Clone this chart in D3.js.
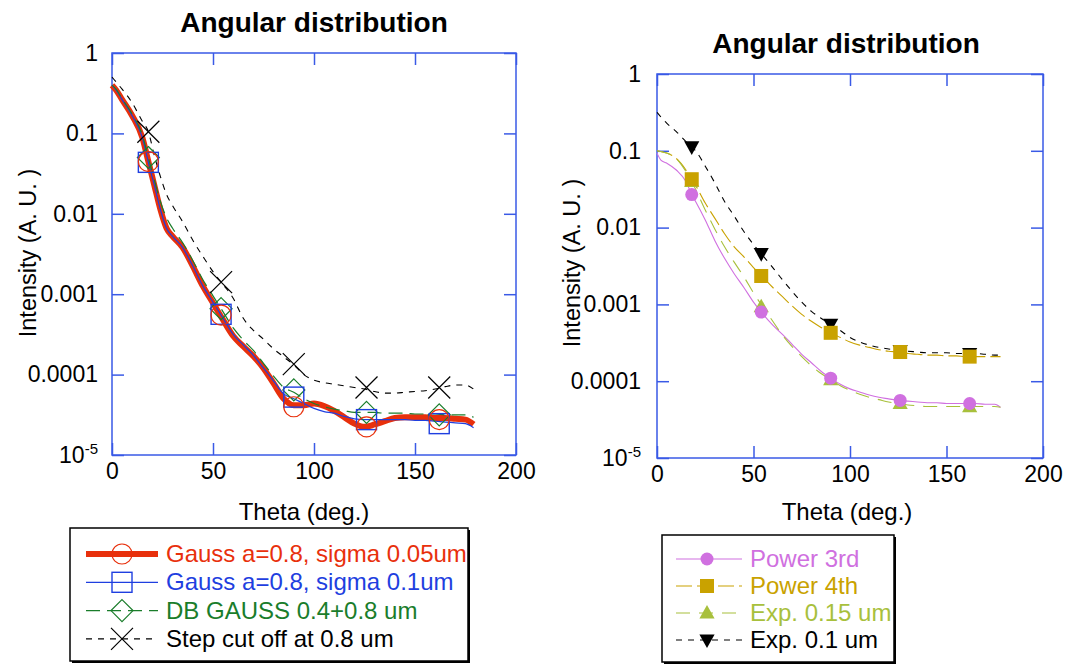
<!DOCTYPE html>
<html>
<head>
<meta charset="utf-8">
<script src="https://cdn.jsdelivr.net/npm/d3@7"></script>
<style>
  body { margin: 0; background: #fff; }
  text { font-family: "Liberation Sans", Arial, sans-serif; }
</style>
</head>
<body>
<svg id="chart" width="1069" height="666"></svg>
<script>
// ---- data (intensities, stored as log10 values) ----
let xTicks = [0, 50, 100, 150, 200];
let yTicks = [1, 0.1, 0.01, 0.001, 0.0001, 1e-5];
let yTickLabels = ["1", "0.1", "0.01", "0.001", "0.0001", "10|-5"];
let markTheta = [18, 54, 90, 126, 162];

// left panel
let thetaL = [0,2,5,10,15,18,21,24,27,30,35,40,45,50,55,60,65,70,75,80,85,90,95,100,105,110,115,120,125,130,135,140,145,150,155,160,165,170,175,179];
let gauss005 = [-0.40,-0.46,-0.58,-0.78,-1.05,-1.35,-1.65,-1.95,-2.18,-2.28,-2.42,-2.65,-2.90,-3.11,-3.32,-3.52,-3.65,-3.77,-3.92,-4.11,-4.30,-4.38,-4.38,-4.36,-4.39,-4.45,-4.53,-4.61,-4.65,-4.62,-4.58,-4.54,-4.53,-4.53,-4.53,-4.54,-4.54,-4.55,-4.56,-4.62];
let gauss01 = [-0.40,-0.46,-0.58,-0.78,-1.05,-1.36,-1.65,-1.95,-2.18,-2.28,-2.42,-2.65,-2.90,-3.10,-3.30,-3.50,-3.63,-3.76,-3.92,-4.08,-4.24,-4.30,-4.36,-4.42,-4.46,-4.48,-4.52,-4.55,-4.56,-4.56,-4.56,-4.56,-4.56,-4.57,-4.57,-4.58,-4.59,-4.60,-4.61,-4.66];
let dbGauss = [-0.40,-0.45,-0.57,-0.76,-1.02,-1.30,-1.58,-1.85,-2.05,-2.18,-2.36,-2.58,-2.82,-3.02,-3.22,-3.42,-3.57,-3.70,-3.86,-4.02,-4.16,-4.22,-4.30,-4.36,-4.40,-4.43,-4.45,-4.47,-4.47,-4.47,-4.48,-4.48,-4.48,-4.49,-4.49,-4.49,-4.50,-4.50,-4.50,-4.53];
let stepCut = [-0.30,-0.36,-0.45,-0.62,-0.85,-0.98,-1.28,-1.54,-1.76,-1.90,-2.10,-2.33,-2.53,-2.72,-2.88,-3.05,-3.30,-3.45,-3.56,-3.68,-3.78,-3.88,-4.00,-4.07,-4.10,-4.12,-4.14,-4.16,-4.18,-4.21,-4.23,-4.23,-4.22,-4.21,-4.20,-4.18,-4.15,-4.13,-4.13,-4.18];
let gauss005Mk = [-1.35,-3.26,-4.40,-4.65,-4.56];
let gauss01Mk = [-1.36,-3.25,-4.28,-4.56,-4.61];
let dbGaussMk = [-1.30,-3.18,-4.19,-4.47,-4.50];
let stepCutMk = [-0.98,-2.85,-3.87,-4.16,-4.16];

// right panel
let thetaR = [0,2,5,10,15,18,20,25,30,35,40,45,50,55,60,65,70,75,80,85,90,95,100,105,110,115,120,125,130,135,140,145,150,155,160,165,170,175,178];
let power3 = [-1.03,-1.12,-1.16,-1.25,-1.40,-1.57,-1.66,-1.90,-2.17,-2.40,-2.60,-2.78,-2.97,-3.13,-3.27,-3.39,-3.52,-3.65,-3.76,-3.87,-3.96,-4.04,-4.10,-4.14,-4.18,-4.21,-4.23,-4.25,-4.26,-4.27,-4.28,-4.28,-4.29,-4.29,-4.29,-4.29,-4.30,-4.30,-4.34];
let power4 = [-1.00,-1.01,-1.03,-1.10,-1.25,-1.37,-1.45,-1.68,-1.88,-2.08,-2.25,-2.38,-2.52,-2.65,-2.78,-2.90,-3.02,-3.13,-3.22,-3.30,-3.37,-3.43,-3.49,-3.53,-3.56,-3.59,-3.61,-3.62,-3.64,-3.65,-3.66,-3.66,-3.67,-3.67,-3.68,-3.68,-3.68,-3.68,-3.68];
let exp015 = [-1.00,-1.01,-1.03,-1.10,-1.27,-1.40,-1.50,-1.77,-2.02,-2.25,-2.45,-2.64,-2.85,-3.04,-3.22,-3.40,-3.55,-3.68,-3.80,-3.90,-3.98,-4.06,-4.12,-4.17,-4.21,-4.24,-4.27,-4.29,-4.31,-4.32,-4.33,-4.33,-4.33,-4.33,-4.33,-4.33,-4.33,-4.33,-4.34];
let exp01 = [-0.50,-0.56,-0.64,-0.75,-0.88,-0.95,-1.00,-1.20,-1.42,-1.66,-1.85,-2.05,-2.22,-2.37,-2.52,-2.68,-2.83,-2.97,-3.09,-3.18,-3.26,-3.34,-3.43,-3.49,-3.53,-3.56,-3.58,-3.60,-3.61,-3.62,-3.63,-3.63,-3.63,-3.64,-3.64,-3.64,-3.65,-3.66,-3.66];
let power3Mk = [-1.57,-3.10,-3.96,-4.25,-4.29];
let power4Mk = [-1.37,-2.63,-3.37,-3.62,-3.68];
let exp015Mk = [-1.40,-3.03,-3.98,-4.29,-4.33];
let exp01Mk = [-0.95,-2.34,-3.26,-3.60,-3.64];

// ---- drawing ----
let FRAME = "#3a5ae6";
let svg = d3.select("#chart");

function pairs(xs, logs) {
  return xs.map((t, i) => [t, Math.pow(10, logs[i])]);
}

function marker(g, kind, color, size, cx, cy) {
  if (kind === "circle") {
    g.append("circle").attr("cx", cx).attr("cy", cy).attr("r", size)
      .attr("fill", "none").attr("stroke", color).attr("stroke-width", 1.2);
  } else if (kind === "square") {
    g.append("rect").attr("x", cx - size).attr("y", cy - size)
      .attr("width", size * 2).attr("height", size * 2)
      .attr("fill", "none").attr("stroke", color).attr("stroke-width", 1.4);
  } else if (kind === "diamond") {
    g.append("path").attr("d", `M${cx},${cy - size}L${cx + size},${cy}L${cx},${cy + size}L${cx - size},${cy}Z`)
      .attr("fill", "none").attr("stroke", color).attr("stroke-width", 1.2);
  } else if (kind === "cross") {
    g.append("path").attr("d", `M${cx - size},${cy - size}L${cx + size},${cy + size}M${cx - size},${cy + size}L${cx + size},${cy - size}`)
      .attr("fill", "none").attr("stroke", color).attr("stroke-width", 1.2);
  } else if (kind === "fcircle") {
    g.append("circle").attr("cx", cx).attr("cy", cy).attr("r", size).attr("fill", color);
  } else if (kind === "fsquare") {
    g.append("rect").attr("x", cx - size).attr("y", cy - size)
      .attr("width", size * 2).attr("height", size * 2).attr("fill", color);
  } else if (kind === "tri") {
    g.append("path").attr("d", `M${cx},${cy - size}L${cx + size * 0.95},${cy + size * 0.7}L${cx - size * 0.95},${cy + size * 0.7}Z`).attr("fill", color);
  } else if (kind === "trid") {
    g.append("path").attr("d", `M${cx},${cy + size}L${cx + size * 0.95},${cy - size * 0.7}L${cx - size * 0.95},${cy - size * 0.7}Z`).attr("fill", color);
  }
}

function panel(p) {
  let x = d3.scaleLinear().domain([0, 200]).range([p.left, p.right]);
  let y = d3.scaleLog().domain([1e-5, 1]).range([p.bottom, p.top]);
  let g = svg.append("g");

  // title
  g.append("text").attr("x", p.titleX).attr("y", p.titleY).attr("text-anchor", "middle")
    .attr("font-size", 28).attr("font-weight", "bold").text("Angular distribution");

  // axes with inward ticks
  let styleAxis = (a) => {
    a.select(".domain").remove();
    a.selectAll(".tick line").attr("stroke", FRAME).attr("stroke-width", 1.5);
    a.selectAll(".tick text").attr("fill", "#000").attr("font-size", 23)
      .attr("font-family", "'Liberation Sans', Arial, sans-serif");
  };
  g.append("g").attr("transform", `translate(0,${p.bottom})`)
    .call(d3.axisBottom(x).tickValues(xTicks).tickSize(-12).tickPadding(8).tickFormat(d3.format("d")))
    .call(styleAxis);
  g.append("g").attr("transform", `translate(0,${p.top})`)
    .call(d3.axisTop(x).tickValues(xTicks).tickSize(-12).tickFormat(""))
    .call(styleAxis);
  let yl = g.append("g").attr("transform", `translate(${p.left},0)`)
    .call(d3.axisLeft(y).tickValues(yTicks).tickSize(-12).tickPadding(p.yPad).tickFormat((d, i) => yTickLabels[i]))
    .call(styleAxis);
  g.append("g").attr("transform", `translate(${p.right},0)`)
    .call(d3.axisRight(y).tickValues(yTicks).tickSize(-12).tickFormat(""))
    .call(styleAxis);
  // superscript label for 10^-5
  yl.selectAll(".tick text").filter((d, i) => yTickLabels[i].includes("|")).each(function (d, i) {
    let parts = yTickLabels[yTicks.indexOf(d)].split("|");
    let t = d3.select(this).text(null);
    t.append("tspan").text(parts[0]);
    t.append("tspan").attr("dy", "-0.6em").attr("font-size", 15).text(parts[1]);
  });

  g.append("rect").attr("x", p.left).attr("y", p.top)
    .attr("width", p.right - p.left).attr("height", p.bottom - p.top)
    .attr("fill", "none").attr("stroke", FRAME).attr("stroke-width", 1.5);

  // axis titles
  g.append("text").attr("x", p.xTitleX).attr("y", p.xTitleY).attr("text-anchor", "middle")
    .attr("font-size", 24).text("Theta (deg.)");
  g.append("text").attr("transform", `translate(${p.yTitleX},${p.yTitleY}) rotate(-90)`)
    .attr("text-anchor", "middle").attr("font-size", 23.5).text("Intensity (A. U. )");

  // curves
  let line = d3.line().x(d => x(d[0])).y(d => y(d[1])).curve(d3.curveMonotoneX);
  p.series.forEach(s => {
    g.append("path").datum(pairs(p.theta, s.values)).attr("d", line)
      .attr("fill", "none").attr("stroke", s.color).attr("stroke-width", s.width)
      .attr("stroke-dasharray", s.dash || null).attr("stroke-linejoin", "round");
  });
  p.series.slice().reverse().forEach(s => {
    markTheta.forEach((t, i) => marker(g, s.mark, s.color, s.size, x(t), y(Math.pow(10, s.marks[i]))));
  });

  // legend
  let L = p.legend;
  g.append("rect").attr("x", L.x + 2).attr("y", L.y + 2).attr("width", L.w).attr("height", L.h).attr("fill", "#000");
  g.append("rect").attr("x", L.x).attr("y", L.y).attr("width", L.w).attr("height", L.h)
    .attr("fill", "#fff").attr("stroke", "#000").attr("stroke-width", 1.5);
  p.series.forEach((s, i) => {
    let by = L.row0 + i * L.rowH;
    let cy = by - 8;
    g.append("line").attr("x1", L.lx0).attr("x2", L.lx1).attr("y1", cy).attr("y2", cy)
      .attr("stroke", s.color).attr("stroke-width", s.width).attr("stroke-dasharray", s.dash || null);
    marker(g, s.mark, s.color, s.size, L.mx, cy);
    g.append("text").attr("x", L.tx).attr("y", by).attr("font-size", 24)
      .attr("fill", s.textColor || s.color).text(s.name);
  });
}

panel({
  left: 112, right: 516, top: 53, bottom: 455, yPad: 14,
  titleX: 314, titleY: 32, xTitleX: 304, xTitleY: 520, yTitleX: 36, yTitleY: 253,
  theta: thetaL,
  series: [
    { name: "Gauss a=0.8, sigma 0.05um", values: gauss005, marks: gauss005Mk, color: "#e8300c", width: 6, mark: "circle", size: 10 },
    { name: "Gauss a=0.8, sigma 0.1um", values: gauss01, marks: gauss01Mk, color: "#1f3fe0", width: 1.2, mark: "square", size: 10 },
    { name: "DB GAUSS 0.4+0.8 um", values: dbGauss, marks: dbGaussMk, color: "#1a7d2b", width: 1.2, dash: "14,7", mark: "diamond", size: 11 },
    { name: "Step cut off at 0.8 um", values: stepCut, marks: stepCutMk, color: "#000", width: 1.1, dash: "6,6", mark: "cross", size: 11 }
  ],
  legend: { x: 70, y: 528, w: 398, h: 133, row0: 562, rowH: 28.3, lx0: 86, lx1: 158, mx: 122, tx: 166 }
});

panel({
  left: 657, right: 1043, top: 74, bottom: 458, yPad: 16,
  titleX: 846, titleY: 53, xTitleX: 847, xTitleY: 520, yTitleX: 580, yTitleY: 263,
  theta: thetaR,
  series: [
    { name: "Power 3rd", values: power3, marks: power3Mk, color: "#d070e0", width: 1.1, mark: "fcircle", size: 6.5 },
    { name: "Power 4th", values: power4, marks: power4Mk, color: "#c9a200", width: 1.1, dash: "16,5", mark: "fsquare", size: 7 },
    { name: "Exp. 0.15 um", values: exp015, marks: exp015Mk, color: "#a8c03c", width: 1.1, dash: "14,9", mark: "tri", size: 8 },
    { name: "Exp. 0.1 um", values: exp01, marks: exp01Mk, color: "#000", width: 1.1, dash: "6,6", mark: "trid", size: 8 }
  ],
  legend: { x: 662, y: 535, w: 232, h: 127, row0: 567, rowH: 27, lx0: 676, lx1: 742, mx: 707, tx: 750 }
});
</script>
</body>
</html>
